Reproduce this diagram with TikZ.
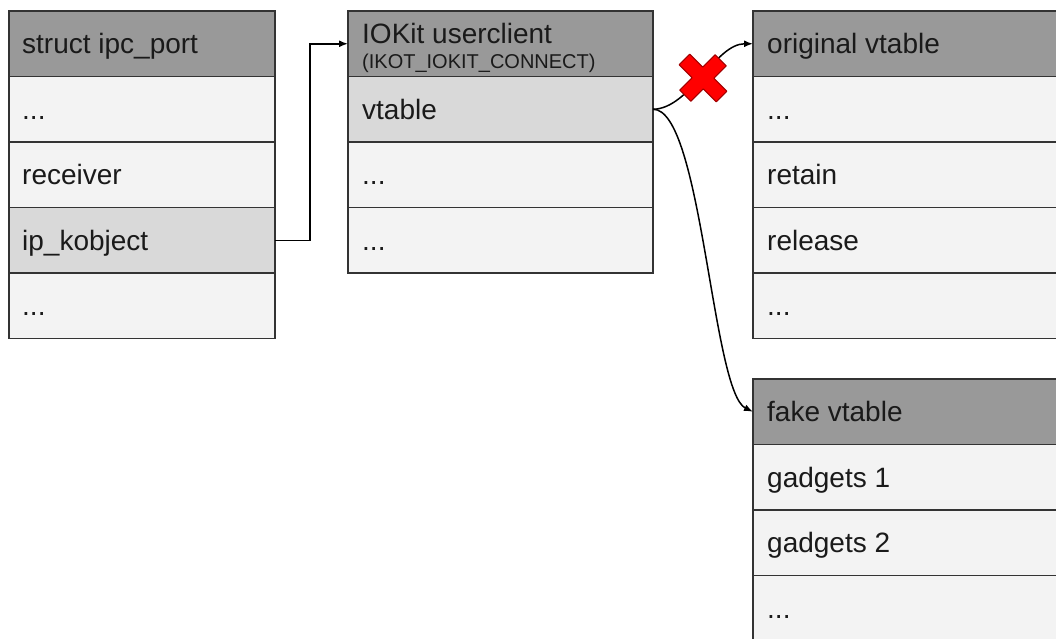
\documentclass[tikz,border=0pt]{standalone}
\usepackage{fontspec}
\setmainfont{Liberation Sans}
\usetikzlibrary{arrows.meta}
\definecolor{hdrgray}{HTML}{999999}
\definecolor{rowlight}{HTML}{F3F3F3}
\definecolor{rowmark}{HTML}{D9D9D9}
\definecolor{edgegray}{HTML}{333333}
\definecolor{txt}{HTML}{1A1A1A}
\definecolor{crossred}{HTML}{FF0000}
\definecolor{crossedge}{HTML}{A00000}
\tikzset{
  cell/.style={draw=edgegray, line width=1.3pt, anchor=north west,
    minimum height=65.5pt, inner sep=0pt, outer sep=0pt},
  hdr/.style={cell, fill=hdrgray},
  plain/.style={cell, fill=rowlight},
  hilite/.style={cell, fill=rowmark},
  lbl/.style={anchor=base west, inner sep=0pt, text=txt,
    font=\fontsize{28}{32}\selectfont},
  sublbl/.style={anchor=base west, inner sep=0pt, text=txt,
    font=\fontsize{20}{24}\selectfont},
  ptr/.style={draw=black, line width=1.5pt, -{Latex[length=9pt,width=7pt]}}
}
\begin{document}
\begin{tikzpicture}[x=1pt,y=-1pt]
\useasboundingbox (0,0) rectangle (1056,638);
\clip (0,0) rectangle (1056,638);

% struct ipc_port
\node[hdr,    minimum width=266pt] (p0) at (9,11) {};
\node[plain,  minimum width=266pt] (p1) at (9,76.5) {};
\node[plain,  minimum width=266pt] (p2) at (9,142) {};
\node[hilite, minimum width=266pt] (p3) at (9,207.5) {};
\node[plain,  minimum width=266pt] (p4) at (9,273) {};
\node[lbl] (tp0) at ([xshift=13pt,yshift=-10pt]p0.west) {struct ipc\_port};
\node[lbl] (tp1) at ([xshift=13pt,yshift=-10pt]p1.west) {...};
\node[lbl] (tp2) at ([xshift=13pt,yshift=-10pt]p2.west) {receiver};
\node[lbl] (tp3) at ([xshift=13pt,yshift=-10pt]p3.west) {ip\_kobject};
\node[lbl] (tp4) at ([xshift=13pt,yshift=-10pt]p4.west) {...};

% IOKit userclient
\node[hdr,    minimum width=305pt] (u0) at (348,11) {};
\node[hilite, minimum width=305pt] (u1) at (348,76.5) {};
\node[plain,  minimum width=305pt] (u2) at (348,142) {};
\node[plain,  minimum width=305pt] (u3) at (348,207.5) {};
\node[lbl] (tu0) at (362,43) {IOKit userclient};
\node[sublbl] (tu0s) at (362,68) {(IKOT\_IOKIT\_CONNECT)};
\node[lbl] (tu1) at ([xshift=14pt,yshift=-10pt]u1.west) {vtable};
\node[lbl] (tu2) at ([xshift=14pt,yshift=-10pt]u2.west) {...};
\node[lbl] (tu3) at ([xshift=14pt,yshift=-10pt]u3.west) {...};

% original vtable
\node[hdr,   minimum width=340pt] (o0) at (753,11) {};
\node[plain, minimum width=340pt] (o1) at (753,76.5) {};
\node[plain, minimum width=340pt] (o2) at (753,142) {};
\node[plain, minimum width=340pt] (o3) at (753,207.5) {};
\node[plain, minimum width=340pt] (o4) at (753,273) {};
\node[lbl] (to0) at ([xshift=14pt,yshift=-10pt]o0.west) {original vtable};
\node[lbl] (to1) at ([xshift=14pt,yshift=-10pt]o1.west) {...};
\node[lbl] (to2) at ([xshift=14pt,yshift=-10pt]o2.west) {retain};
\node[lbl] (to3) at ([xshift=14pt,yshift=-10pt]o3.west) {release};
\node[lbl] (to4) at ([xshift=14pt,yshift=-10pt]o4.west) {...};

% fake vtable
\node[hdr,   minimum width=340pt] (f0) at (753,379) {};
\node[plain, minimum width=340pt] (f1) at (753,444.5) {};
\node[plain, minimum width=340pt] (f2) at (753,510) {};
\node[plain, minimum width=340pt] (f3) at (753,575.5) {};
\node[lbl] (tf0) at ([xshift=14pt,yshift=-10pt]f0.west) {fake vtable};
\node[lbl] (tf1) at ([xshift=14pt,yshift=-10pt]f1.west) {gadgets 1};
\node[lbl] (tf2) at ([xshift=14pt,yshift=-10pt]f2.west) {gadgets 2};
\node[lbl] (tf3) at ([xshift=14pt,yshift=-10pt]f3.west) {...};

% pointers
\draw[ptr] (p3.east) -- ++(35,0) |- (u0.west);
\draw[ptr] (u1.east) .. controls (690,108.75) and (715,43.75) .. (o0.west);
\draw[ptr] (u1.east) .. controls (702,108.75) and (712,392) .. (f0.west);

% broken link marker
\begin{scope}[shift={(703,78)}, rotate=45, yscale=1.05]
  \fill[crossred, draw=crossedge, line width=1pt, line join=round]
    (7.5,25) -- (7.5,7.5) -- (25,7.5) -- (25,-7.5) -- (7.5,-7.5) -- (7.5,-25)
    -- (-7.5,-25) -- (-7.5,-7.5) -- (-25,-7.5) -- (-25,7.5) -- (-7.5,7.5)
    -- (-7.5,25) -- cycle;
\end{scope}
\end{tikzpicture}
\end{document}
